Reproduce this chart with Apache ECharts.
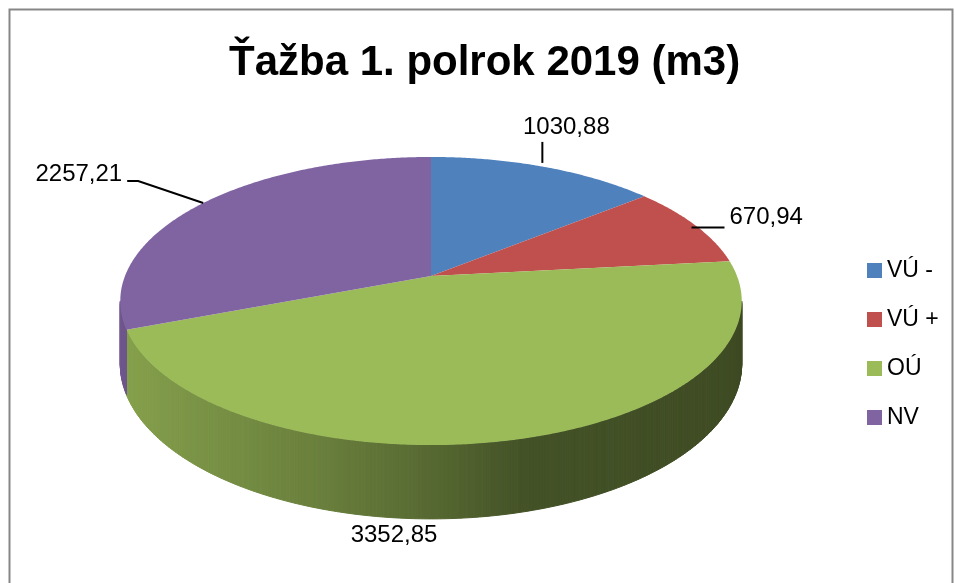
<!DOCTYPE html>
<html>
<head>
<meta charset="utf-8">
<title>Ťažba 1. polrok 2019 (m3)</title>
<script src="https://cdn.jsdelivr.net/npm/echarts@6/dist/echarts.min.js"></script>
<style>
  html, body { margin: 0; padding: 0; background: #fff; }
  #chart { width: 955px; height: 583px; }
</style>
</head>
<body>
<div id="chart"></div>
<script>
const categories = ['VÚ -', 'VÚ +', 'OÚ', 'NV']
const values = [1030.88, 670.94, 3352.85, 2257.21]
const colors = ['#4F81BD', '#C0504D', '#9BBB59', '#8064A2']

// tilted disc seen in perspective (excel 3d pie look)
const view = { cx: 431, cy: 276, rx: 306, ry: 139.7, persp: -0.1737, depth: 61 }

// leader line points and text offset, relative to the slice's rim point
const labelLayout = [
  { line: [[-2, -4], [-2, -25]], text: [22, -40], align: 'center' },
  { line: [[-4, 2], [29, 2]], text: [34, -8], align: 'left' },
  { line: [], text: [-124, 96], align: 'center' },
  { line: [[2, -1], [-63, -23], [-74, -23]], text: [-79, -30], align: 'right' }
]

// brightness of the side wall depending on horizontal position (-1 left .. 1 right)
const sideShade = [[-1, 0.88], [-0.6, 0.77], [-0.3, 0.68], [0, 0.56], [0.25, 0.44], [1, 0.40]]

const total = values.reduce((s, v) => s + v, 0)
const TAU = Math.PI * 2
const silhouetteR = Math.acos(view.persp)
const silhouetteL = TAU - silhouetteR

function project (theta, drop) {
  const u = Math.sin(theta)
  const v = -Math.cos(theta)
  const w = 1 + view.persp * v
  return [
    view.cx + view.rx * u / w,
    view.cy + view.ry * v / w + (drop ? view.depth / w : 0)
  ]
}

function shadeFactor (u) {
  for (let i = 1; i < sideShade.length; i++) {
    if (u <= sideShade[i][0]) {
      const a = sideShade[i - 1]
      const b = sideShade[i]
      const t = (u - a[0]) / (b[0] - a[0])
      return a[1] + (b[1] - a[1]) * t
    }
  }
  return sideShade[sideShade.length - 1][1]
}

function darken (hex, f) {
  const n = parseInt(hex.slice(1), 16)
  const r = Math.round(((n >> 16) & 255) * f)
  const g = Math.round(((n >> 8) & 255) * f)
  const b = Math.round((n & 255) * f)
  return 'rgb(' + r + ',' + g + ',' + b + ')'
}

function formatNum (v) {
  return v.toFixed(2).replace('.', ',')
}

function sliceRenderer (idx) {
  return function (params, api) {
    const value = api.value(0)
    const before = values.slice(0, idx).reduce((s, v) => s + v, 0)
    const start = before / total * TAU
    const end = start + value / total * TAU
    const step = Math.PI / 360
    const children = []

    // visible side wall (front part of the cylinder)
    const a0 = Math.max(start, silhouetteR)
    const a1 = Math.min(end, silhouetteL)
    if (a1 > a0) {
      const n = Math.ceil((a1 - a0) / step)
      for (let k = 0; k < n; k++) {
        const t0 = a0 + (a1 - a0) * k / n
        const t1 = a0 + (a1 - a0) * (k + 1) / n
        const c = darken(colors[idx], shadeFactor(Math.sin((t0 + t1) / 2)))
        children.push({
          type: 'polygon',
          shape: { points: [project(t0, false), project(t1, false), project(t1, true), project(t0, true)] },
          style: { fill: c, stroke: c, lineWidth: 1 }
        })
      }
    }

    // top face
    const pts = [[view.cx, view.cy]]
    const m = Math.max(2, Math.ceil((end - start) / step))
    for (let k = 0; k <= m; k++) {
      pts.push(project(start + (end - start) * k / m, false))
    }
    children.push({
      type: 'polygon',
      shape: { points: pts },
      style: { fill: colors[idx] }
    })

    // data label with leader line
    const anchor = project((start + end) / 2, false)
    const lay = labelLayout[idx]
    if (lay.line.length) {
      children.push({
        type: 'polyline',
        shape: { points: lay.line.map(p => [anchor[0] + p[0], anchor[1] + p[1]]) },
        style: { stroke: '#000', lineWidth: 2, fill: null }
      })
    }
    children.push({
      type: 'text',
      style: {
        text: formatNum(value),
        x: anchor[0] + lay.text[0],
        y: anchor[1] + lay.text[1],
        align: lay.align,
        verticalAlign: 'middle',
        font: '24px "Liberation Sans"',
        fill: '#000'
      }
    })

    return { type: 'group', children: children }
  }
}

const chart = echarts.init(document.getElementById('chart'))

chart.setOption({
  animation: false,
  title: {
    text: 'Ťažba 1. polrok 2019 (m3)',
    left: 229,
    top: 42,
    padding: 0,
    textStyle: {
      fontFamily: 'Liberation Sans',
      fontWeight: 'bold',
      fontSize: 42,
      color: '#000'
    }
  },
  legend: {
    orient: 'vertical',
    left: 867,
    top: 259,
    padding: 0,
    itemWidth: 15,
    itemHeight: 15,
    itemGap: 26,
    icon: 'rect',
    data: categories,
    textStyle: { fontFamily: 'Liberation Sans', fontSize: 23, color: '#000' }
  },
  graphic: [{
    type: 'rect',
    left: 7,
    top: 7,
    shape: { width: 943, height: 600 },
    style: { fill: 'none', stroke: '#878787', lineWidth: 2 }
  }],
  series: categories.map((name, i) => ({
    type: 'custom',
    name: name,
    coordinateSystem: 'none',
    itemStyle: { color: colors[i] },
    renderItem: sliceRenderer(i),
    data: [[values[i]]]
  }))
})
</script>
</body>
</html>
